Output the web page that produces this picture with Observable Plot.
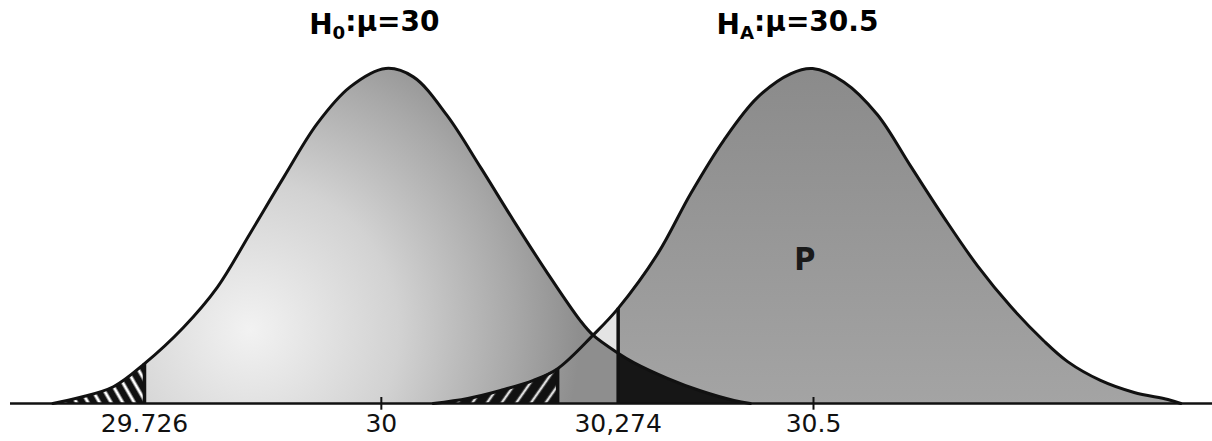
<!DOCTYPE html>
<html><head><meta charset="utf-8">
<script src="https://cdn.jsdelivr.net/npm/d3@7"></script>
<script src="https://cdn.jsdelivr.net/npm/@observablehq/plot@0.6"></script>
<style>html,body{margin:0;padding:0;background:#fff;overflow:hidden}</style>
</head><body><div id="chart"></div>
<script>
// H0 curve (mean 30): x value, relative height (peak = 1)
const h0X = [29.620, 29.651, 29.690, 29.726, 29.771, 29.810, 29.848, 29.887, 29.926, 29.964, 30.005, 30.037, 30.076, 30.115, 30.153, 30.192, 30.230, 30.245, 30.274, 30.292, 30.331, 30.369, 30.408, 30.427];
const h0Y = [0, 0.018, 0.050, 0.119, 0.227, 0.346, 0.507, 0.675, 0.836, 0.945, 1.0, 0.975, 0.860, 0.704, 0.546, 0.390, 0.248, 0.204, 0.150, 0.122, 0.075, 0.038, 0.009, 0];
// HA curve (mean 30.5)
const haX = [30.060, 30.100, 30.138, 30.176, 30.204, 30.245, 30.274, 30.320, 30.358, 30.396, 30.435, 30.474, 30.499, 30.535, 30.574, 30.612, 30.651, 30.690, 30.728, 30.766, 30.794, 30.832, 30.871, 30.910, 30.925];
const haY = [0, 0.015, 0.039, 0.069, 0.104, 0.204, 0.284, 0.448, 0.627, 0.785, 0.913, 0.985, 1.0, 0.960, 0.862, 0.710, 0.555, 0.410, 0.290, 0.188, 0.125, 0.069, 0.033, 0.012, 0];

// critical values and vertical lines
const cutX = [29.726, 30.204, 30.274];
const cutH = [0.119, 0.104, 0.284];
const crossX = 30.245;

// axis
const tickValues = [29.726, 30, 30.274, 30.5];
const tickLabels = ["29.726", "30", "30,274", "30.5"];
const meanTicks = [30, 30.5];

// titles
const hypSub = ["0", "A"];
const hypMean = [30, 30.5];
const hypMeanLabel = ["30", "30.5"];

// region label
const regionLabel = ["P"];
const regionX = [30.49];
const regionY = [0.43];

const h0 = h0X.map((x, i) => ({x, y: h0Y[i]}));
const ha = haX.map((x, i) => ({x, y: haY[i]}));
const titles = hypSub.map((s, i) => ({x: hypMean[i], s, m: hypMeanLabel[i]}));
const cuts = cutX.map((x, i) => ({x, h: cutH[i]}));
const curve = "catmull-rom";
const titleOpts = {x: "x", y: 1.13, text: d => "H" + d.s + ":μ=" + d.m, className: "ttl", fontSize: 28, fontWeight: "bold", fill: "#000"};

const chart = Plot.plot({
  width: 1212,
  height: 441,
  marginLeft: 10,
  marginRight: 0,
  marginTop: 0,
  marginBottom: 38,
  x: {domain: [29.726, 30.5], range: [144, 813]},
  y: {domain: [0, 1], range: [403, 68], axis: null},
  style: {fontFamily: "DejaVu Sans", color: "black", background: "white"},
  marks: [
    Plot.areaY(ha.filter(d => d.x >= crossX && d.x <= cutX[2]), {x: "x", y: "y", curve, fill: "#e4e4e4"}),
    Plot.areaY(h0, {x: "x", y: "y", curve, fill: "url(#g0)"}),
    Plot.areaY(ha.filter(d => d.x >= cutX[2]), {x: "x", y: "y", curve, fill: "url(#gA)"}),
    Plot.areaY(h0.filter(d => d.x >= cutX[2]), {x: "x", y: "y", curve, fill: "#161616"}),
    Plot.areaY(ha.filter(d => d.x <= cutX[1]), {x: "x", y: "y", curve, fill: "url(#hatchR)"}),
    Plot.areaY(h0.filter(d => d.x <= cutX[0]), {x: "x", y: "y", curve, fill: "url(#hatchL)"}),
    Plot.line(h0, {x: "x", y: "y", curve, stroke: "#111", strokeWidth: 3}),
    Plot.line(ha, {x: "x", y: "y", curve, stroke: "#111", strokeWidth: 3}),
    Plot.ruleX(cuts, {x: "x", y1: 0, y2: "h", stroke: "#111", strokeWidth: 3.5}),
    Plot.ruleX(meanTicks, {y1: -0.02, y2: 0.018, stroke: "#111", strokeWidth: 2}),
    Plot.ruleY([0], {stroke: "#111", strokeWidth: 2.5}),
    Plot.axisX({ticks: tickValues, tickFormat: (d) => tickLabels[tickValues.indexOf(d)], tickSize: 0, tickPadding: 11, fontSize: 25, label: null, fill: "#111"}),
    Plot.text(titles.slice(0, 1), {...titleOpts, dx: -7}),
    Plot.text(titles.slice(1), {...titleOpts, dx: -16}),
    Plot.text(regionLabel, {x: regionX, y: regionY, text: d => d, fontSize: 32, fontWeight: "bold", fontFamily: "DejaVu Sans Condensed", fill: "#1a1a1a"})
  ]
});

const svg = d3.select(chart);
svg.insert("defs", ":first-child").html(`
  <radialGradient id="g0" gradientUnits="userSpaceOnUse" cx="250" cy="330" r="330">
    <stop offset="0" stop-color="#f2f2f2"/>
    <stop offset="0.45" stop-color="#d2d2d2"/>
    <stop offset="0.8" stop-color="#a8a8a8"/>
    <stop offset="1" stop-color="#8e8e8e"/>
  </radialGradient>
  <linearGradient id="gA" gradientUnits="userSpaceOnUse" x1="0" y1="60" x2="0" y2="405">
    <stop offset="0" stop-color="#8a8a8a"/>
    <stop offset="1" stop-color="#a4a4a4"/>
  </linearGradient>
  <pattern id="hatchL" patternUnits="userSpaceOnUse" width="10" height="10" patternTransform="rotate(-30)">
    <rect width="10" height="10" fill="#111"/>
    <line x1="5" y1="0" x2="5" y2="10" stroke="#fff" stroke-width="3"/>
  </pattern>
  <pattern id="hatchR" patternUnits="userSpaceOnUse" width="12" height="12" patternTransform="rotate(35)">
    <rect width="12" height="12" fill="#111"/>
    <line x1="6" y1="0" x2="6" y2="12" stroke="#ddd" stroke-width="2.5"/>
  </pattern>
`);
svg.selectAll(".ttl text").each(function() {
  const t = d3.select(this);
  const txt = this.textContent;
  const sub = txt.charAt(1);
  const rest = txt.slice(2);
  t.text(null);
  t.append("tspan").text("H");
  t.append("tspan").attr("dy", "0.3em").attr("font-size", "0.65em").text(sub);
  t.append("tspan").attr("dy", "-0.3em").text(rest);
});
document.getElementById("chart").appendChild(chart);
</script>
</body></html>
